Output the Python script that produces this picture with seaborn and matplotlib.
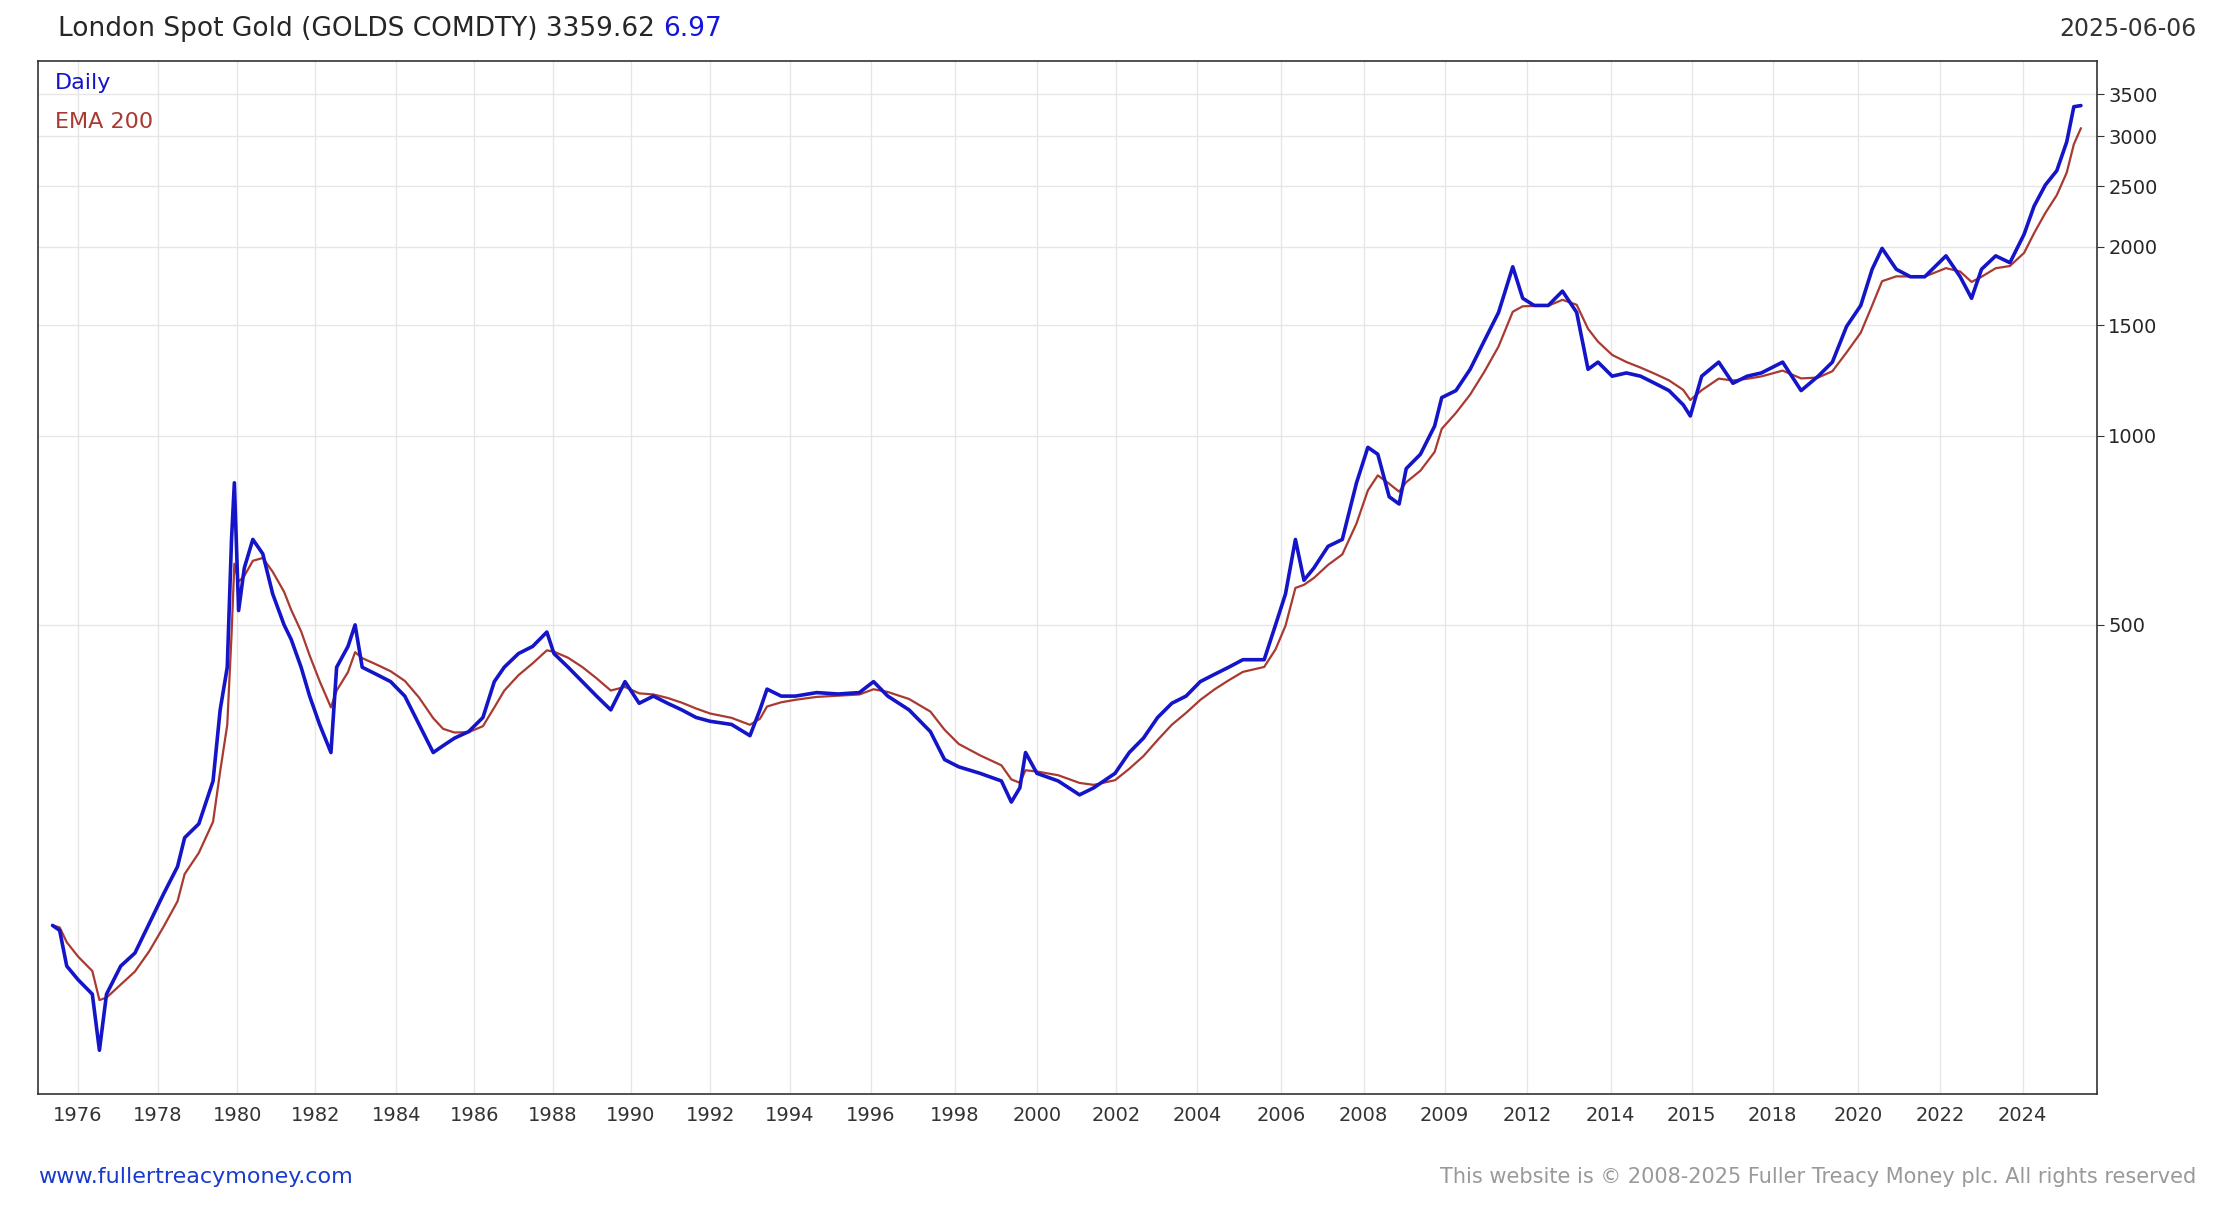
import numpy as np
import pandas as pd
import seaborn as sns
import matplotlib
matplotlib.use("Agg")
import matplotlib.pyplot as plt
from matplotlib.ticker import FixedLocator, NullLocator

# chart position (session index units along x) and price values
session_pos = [37,42,47,55,65,70,75,85,95,105,115,125,130,140,150,155,160,163,165,168,172,178,185,192,200,205,212,218,225,233,237,245,250,255,265,275,285,295,305,312,320,330,340,348,355,365,375,385,390,400,410,420,430,440,450,460,470,480,490,500,515,528,535,540,550,560,575,590,605,615,625,640,655,665,675,690,705,712,718,722,730,745,760,770,785,795,805,815,825,835,845,855,865,875,890,898,905,912,918,925,935,945,955,963,970,978,985,990,1000,1010,1015,1025,1035,1045,1055,1065,1072,1080,1090,1100,1110,1118,1125,1135,1145,1155,1165,1175,1185,1190,1198,1210,1220,1230,1240,1255,1268,1280,1290,1300,1310,1318,1325,1335,1345,1355,1370,1380,1388,1395,1405,1415,1425,1432,1440,1448,1455,1460,1465]
price = [166,163,143,136,129,105,129,143,150,167,186,206,229,241,282,366,428,684,842,527,616,684,649,560,500,474,428,385,347,313,428,462,500,428,417,406,385,347,313,321,330,338,356,406,428,450,462,487,450,428,406,385,366,406,375,385,375,366,356,351,347,333,366,395,385,385,390,388,390,406,385,366,338,305,297,290,282,261,275,313,290,282,268,275,290,313,330,356,375,385,406,417,428,440,440,500,560,684,589,616,667,684,842,959,935,800,779,887,935,1037,1151,1181,1277,1418,1573,1860,1657,1614,1614,1701,1573,1277,1311,1245,1260,1245,1213,1181,1121,1076,1245,1311,1213,1245,1260,1311,1181,1245,1311,1494,1614,1843,1990,1843,1793,1793,1936,1793,1657,1843,1936,1888,2096,2323,2512,2646,2941,3346,3360]
tick_labels = ["1976","1978","1980","1982","1984","1986","1988","1990","1992","1994","1996","1998","2000","2002","2004","2006","2008","2009","2012","2014","2015","2018","2020","2022","2024"]
tick_pos = [55,111,167,222,279,334,389,444,500,556,613,672,730,786,843,902,960,1017,1075,1134,1191,1248,1308,1366,1424]
y_ticks = [500,1000,1500,2000,2500,3000,3500]

df = pd.DataFrame({"x": session_pos, "Daily": price})
df["EMA 200"] = df["Daily"].ewm(span=4, adjust=False).mean()

sns.set_style("white")
fig = plt.figure(figsize=(22.16, 12.16), dpi=100)
ax = fig.add_axes([0.0173, 0.1005, 0.9288, 0.8495])
sns.lineplot(data=df, x="x", y="EMA 200", ax=ax, color="#a83a32", lw=1.6)
sns.lineplot(data=df, x="x", y="Daily", ax=ax, color="#1414c8", lw=2.6)
ax.set_yscale("log")
ax.set_ylim(89.5, 3960)
ax.set_xlim(27, 1476)
ax.yaxis.tick_right()
ax.yaxis.set_major_locator(FixedLocator(y_ticks))
ax.yaxis.set_minor_locator(NullLocator())
ax.set_yticklabels([str(v) for v in y_ticks], fontsize=14)
ax.set_xticks(tick_pos)
ax.set_xticklabels(tick_labels, fontsize=14, color="#333333")
ax.tick_params(axis="both", length=5, color="#333333")
ax.grid(True, color="#e6e6e6", lw=1)
ax.set_xlabel(""); ax.set_ylabel("")
for s in ax.spines.values():
    s.set_color("#333333"); s.set_linewidth(1.2)

ax.text(0.008, 0.988, "Daily", transform=ax.transAxes, color="#1414c8", fontsize=16, va="top")
ax.text(0.008, 0.950, "EMA 200", transform=ax.transAxes, color="#a83a32", fontsize=16, va="top")

t1 = fig.text(0.026, 0.976, "London Spot Gold (GOLDS COMDTY) 3359.62 ", fontsize=19, va="center")
fig.canvas.draw()
bb = t1.get_window_extent().transformed(fig.transFigure.inverted())
fig.text(bb.x1, 0.976, "6.97", fontsize=19, va="center", color="#1414e0")
fig.text(0.991, 0.976, "2025-06-06", fontsize=17, va="center", ha="right", color="#333333")
fig.text(0.017, 0.032, "www.fullertreacymoney.com", fontsize=16, va="center", color="#1a3acc")
fig.text(0.991, 0.032, "This website is © 2008-2025 Fuller Treacy Money plc. All rights reserved", fontsize=15, va="center", ha="right", color="#999999")
fig.savefig("out.png", dpi=100)
